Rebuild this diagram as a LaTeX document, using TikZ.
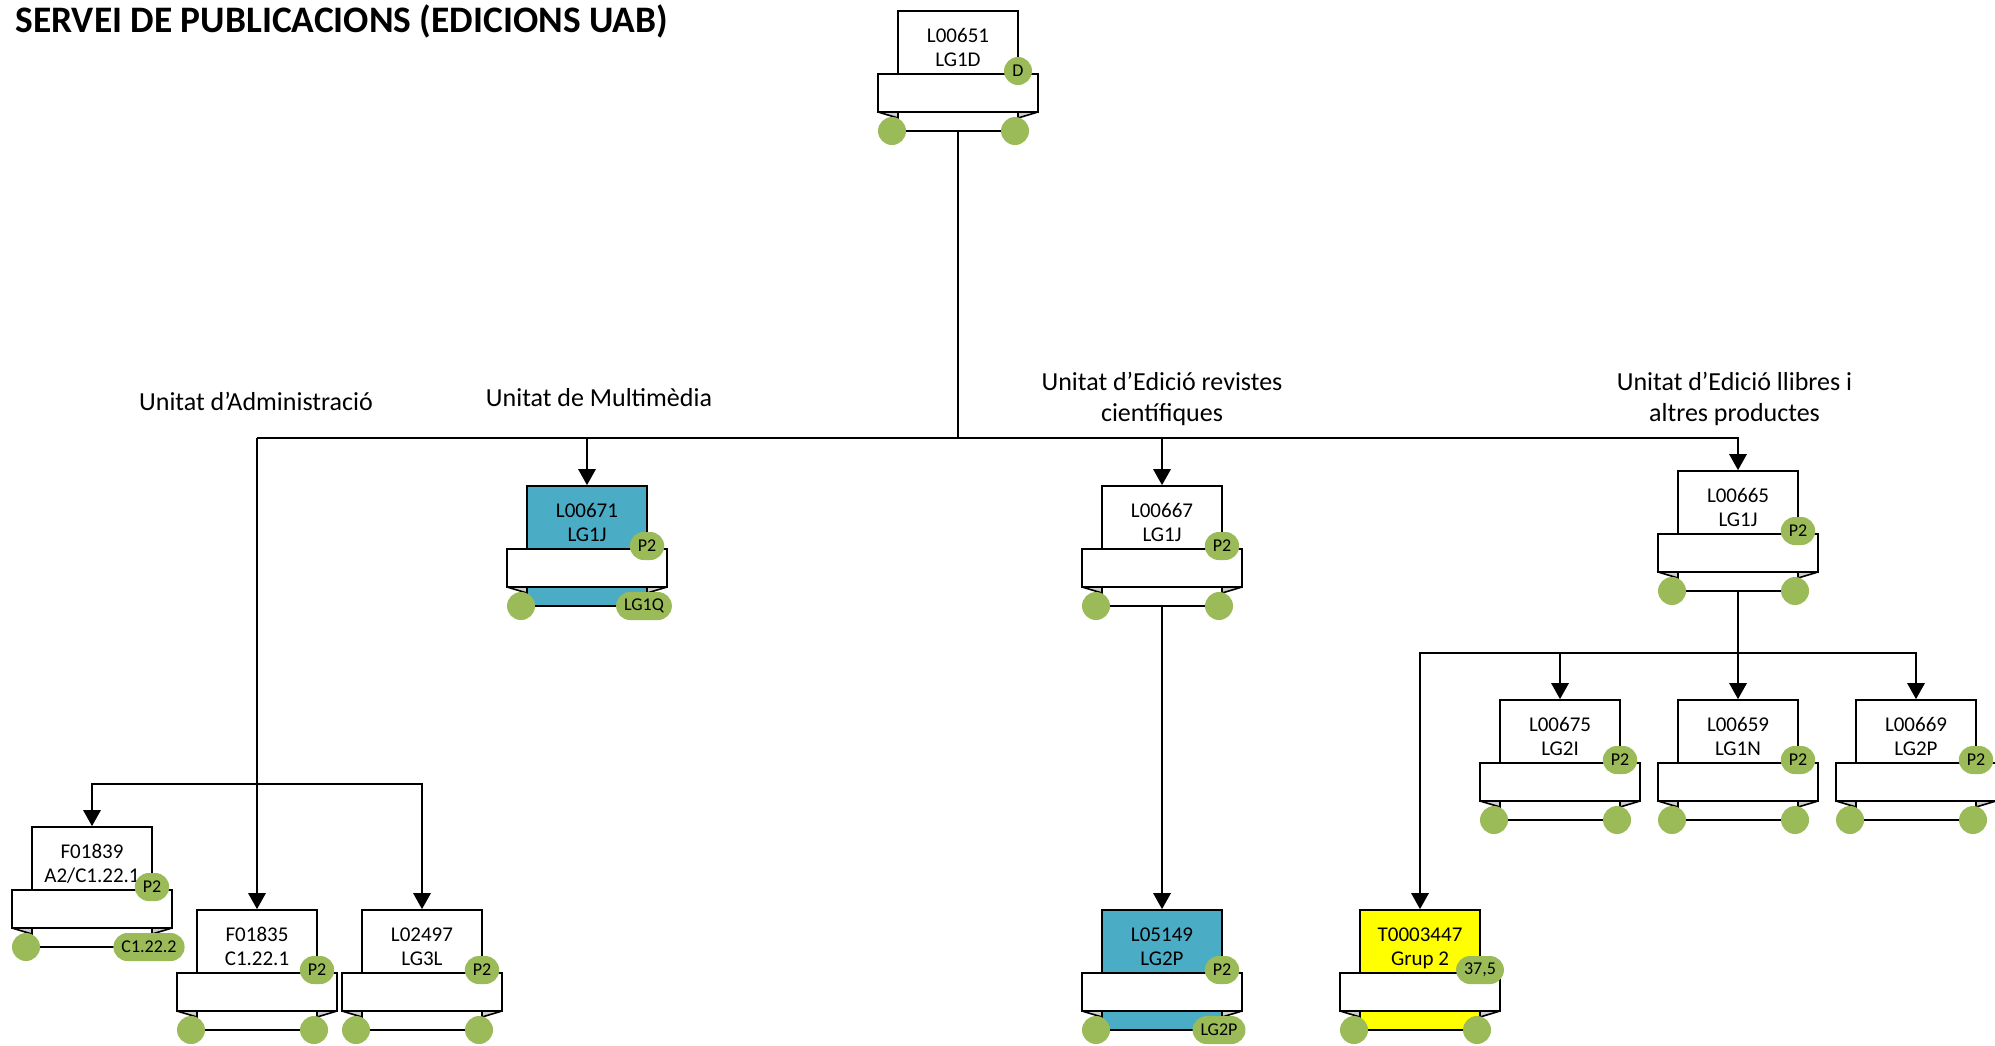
\documentclass[tikz,border=0pt]{standalone}
\usepackage{fontspec}
\setmainfont{Carlito}
\usepackage{tikz}
\usepackage{xcolor}
\usetikzlibrary{positioning}
\usetikzlibrary{arrows.meta}

\definecolor{badge-green}{HTML}{9BBB59}
\definecolor{card-blue}{HTML}{4BACC6}
\definecolor{card-yellow}{HTML}{FFFF00}
\definecolor{fold-grey}{HTML}{D0D0D0}

\begin{document}
\begin{tikzpicture}
[
x=0.5pt, y=-0.5pt,
card-box/.style={rectangle, draw, line width=0.8pt, minimum width=60pt, minimum height=60pt, inner sep=0pt},
band-box/.style={rectangle, draw, fill=white, line width=0.8pt, minimum width=80pt, minimum height=19pt, inner sep=0pt},
fold-a/.style={fill=fold-grey, draw, line width=0.8pt, line join=bevel},
dot-a/.style={rectangle, rounded corners=7pt, fill=badge-green, minimum width=14pt, minimum height=14pt, inner xsep=4pt, inner ysep=0pt, font=\fontsize{9}{10}\selectfont},
text-id/.style={anchor=base, inner sep=0pt, font=\fontsize{10.5}{12}\selectfont},
text-unit/.style={anchor=base, align=center, inner sep=0pt, font=\fontsize{13}{15.5}\selectfont},
text-title/.style={anchor=base west, inner sep=0pt, font=\fontsize{18.7}{22}\selectfont\bfseries},
line-a/.style={line width=1.4pt},
arrow-a/.style={line width=1.4pt, -{Triangle[length=8pt, width=8.5pt]}},
pics/org-card/.style n args={5}{code={
  \node (-card) [card-box, fill=#3] at (0,60)  {};
  \node (-id)   [text-id]           at (0,31)  {#1};
  \node (-code) [text-id]           at (0,55)  {#2};
  \node (-band) [band-box]          at (0,82)  {};
  \filldraw [fold-a] (-80,101) -- (-60,101) -- (-60,107) -- cycle;
  \filldraw [fold-a] (80,101)  -- (60,101)  -- (60,107)  -- cycle;
  \node (-left)  [dot-a]            at (-66,120) {};
  \node (-right) [dot-a]            at (57,120)  {#5};
  \node (-top)   [dot-a]            at (60,60)   {#4};
}}
]

\useasboundingbox (0,0) rectangle (1995,1045);

% title and units
\node (title)     [text-title] at (15,32)      {SERVEI DE PUBLICACIONS (EDICIONS UAB)};
\node (unit-adm)  [text-unit]  at (256,410.7)  {Unitat d’Administració};
\node (unit-mult) [text-unit]  at (599,406)    {Unitat de Multimèdia};
\node (unit-rev)  [text-unit]  at (1162,421.7) {Unitat d’Edició revistes\\científiques};
\node (unit-llib) [text-unit]  at (1734.5,421.7) {Unitat d’Edició llibres i\\altres productes};

% cards
\pic (l00651)   at (958,11)   {org-card={L00651}{LG1D}{white}{D}{}};
\pic (l00671)   at (587,486)  {org-card={L00671}{LG1J}{card-blue}{P2}{LG1Q}};
\pic (l00667)   at (1162,486) {org-card={L00667}{LG1J}{white}{P2}{}};
\pic (l00665)   at (1738,471) {org-card={L00665}{LG1J}{white}{P2}{}};
\pic (l00675)   at (1560,700) {org-card={L00675}{LG2I}{white}{P2}{}};
\pic (l00659)   at (1738,700) {org-card={L00659}{LG1N}{white}{P2}{}};
\pic (l00669)   at (1916,700) {org-card={L00669}{LG2P}{white}{P2}{}};
\pic (f01839)   at (92,827)   {org-card={F01839}{A2/C1.22.1}{white}{P2}{C1.22.2}};
\pic (f01835)   at (257,910)  {org-card={F01835}{C1.22.1}{white}{P2}{}};
\pic (l02497)   at (422,910)  {org-card={L02497}{LG3L}{white}{P2}{}};
\pic (l05149)   at (1162,910) {org-card={L05149}{LG2P}{card-blue}{P2}{LG2P}};
\pic (t0003447) at (1420,910) {org-card={T0003447}{Grup 2}{card-yellow}{37,5}{}};

% connectors
\coordinate (bus-main) at (0,438);
\coordinate (bus-adm)  at (0,784);
\coordinate (bus-llib) at (0,653);
\draw [line-a]  (l00651-card.south) -- (l00651-card.south |- bus-main);
\draw [arrow-a] (f01835-card.north |- bus-main) -| (l00665-card.north);
\draw [arrow-a] (f01835-card.north |- bus-main) -- (f01835-card.north);
\draw [arrow-a] (l00671-card.north |- bus-main) -- (l00671-card.north);
\draw [arrow-a] (l00667-card.north |- bus-main) -- (l00667-card.north);
\draw [arrow-a] (l00667-card.south) -- (l05149-card.north);
\draw [arrow-a] (f01835-card.north |- bus-adm) -| (f01839-card.north);
\draw [arrow-a] (f01835-card.north |- bus-adm) -| (l02497-card.north);
\draw [line-a]  (l00665-card.south) -- (l00665-card.south |- bus-llib);
\draw [arrow-a] (l00665-card.south |- bus-llib) -| (t0003447-card.north);
\draw [arrow-a] (l00665-card.south |- bus-llib) -| (l00669-card.north);
\draw [arrow-a] (l00665-card.south |- bus-llib) -- (l00659-card.north);
\draw [arrow-a] (l00675-card.north |- bus-llib) -- (l00675-card.north);

\end{tikzpicture}
\end{document}
